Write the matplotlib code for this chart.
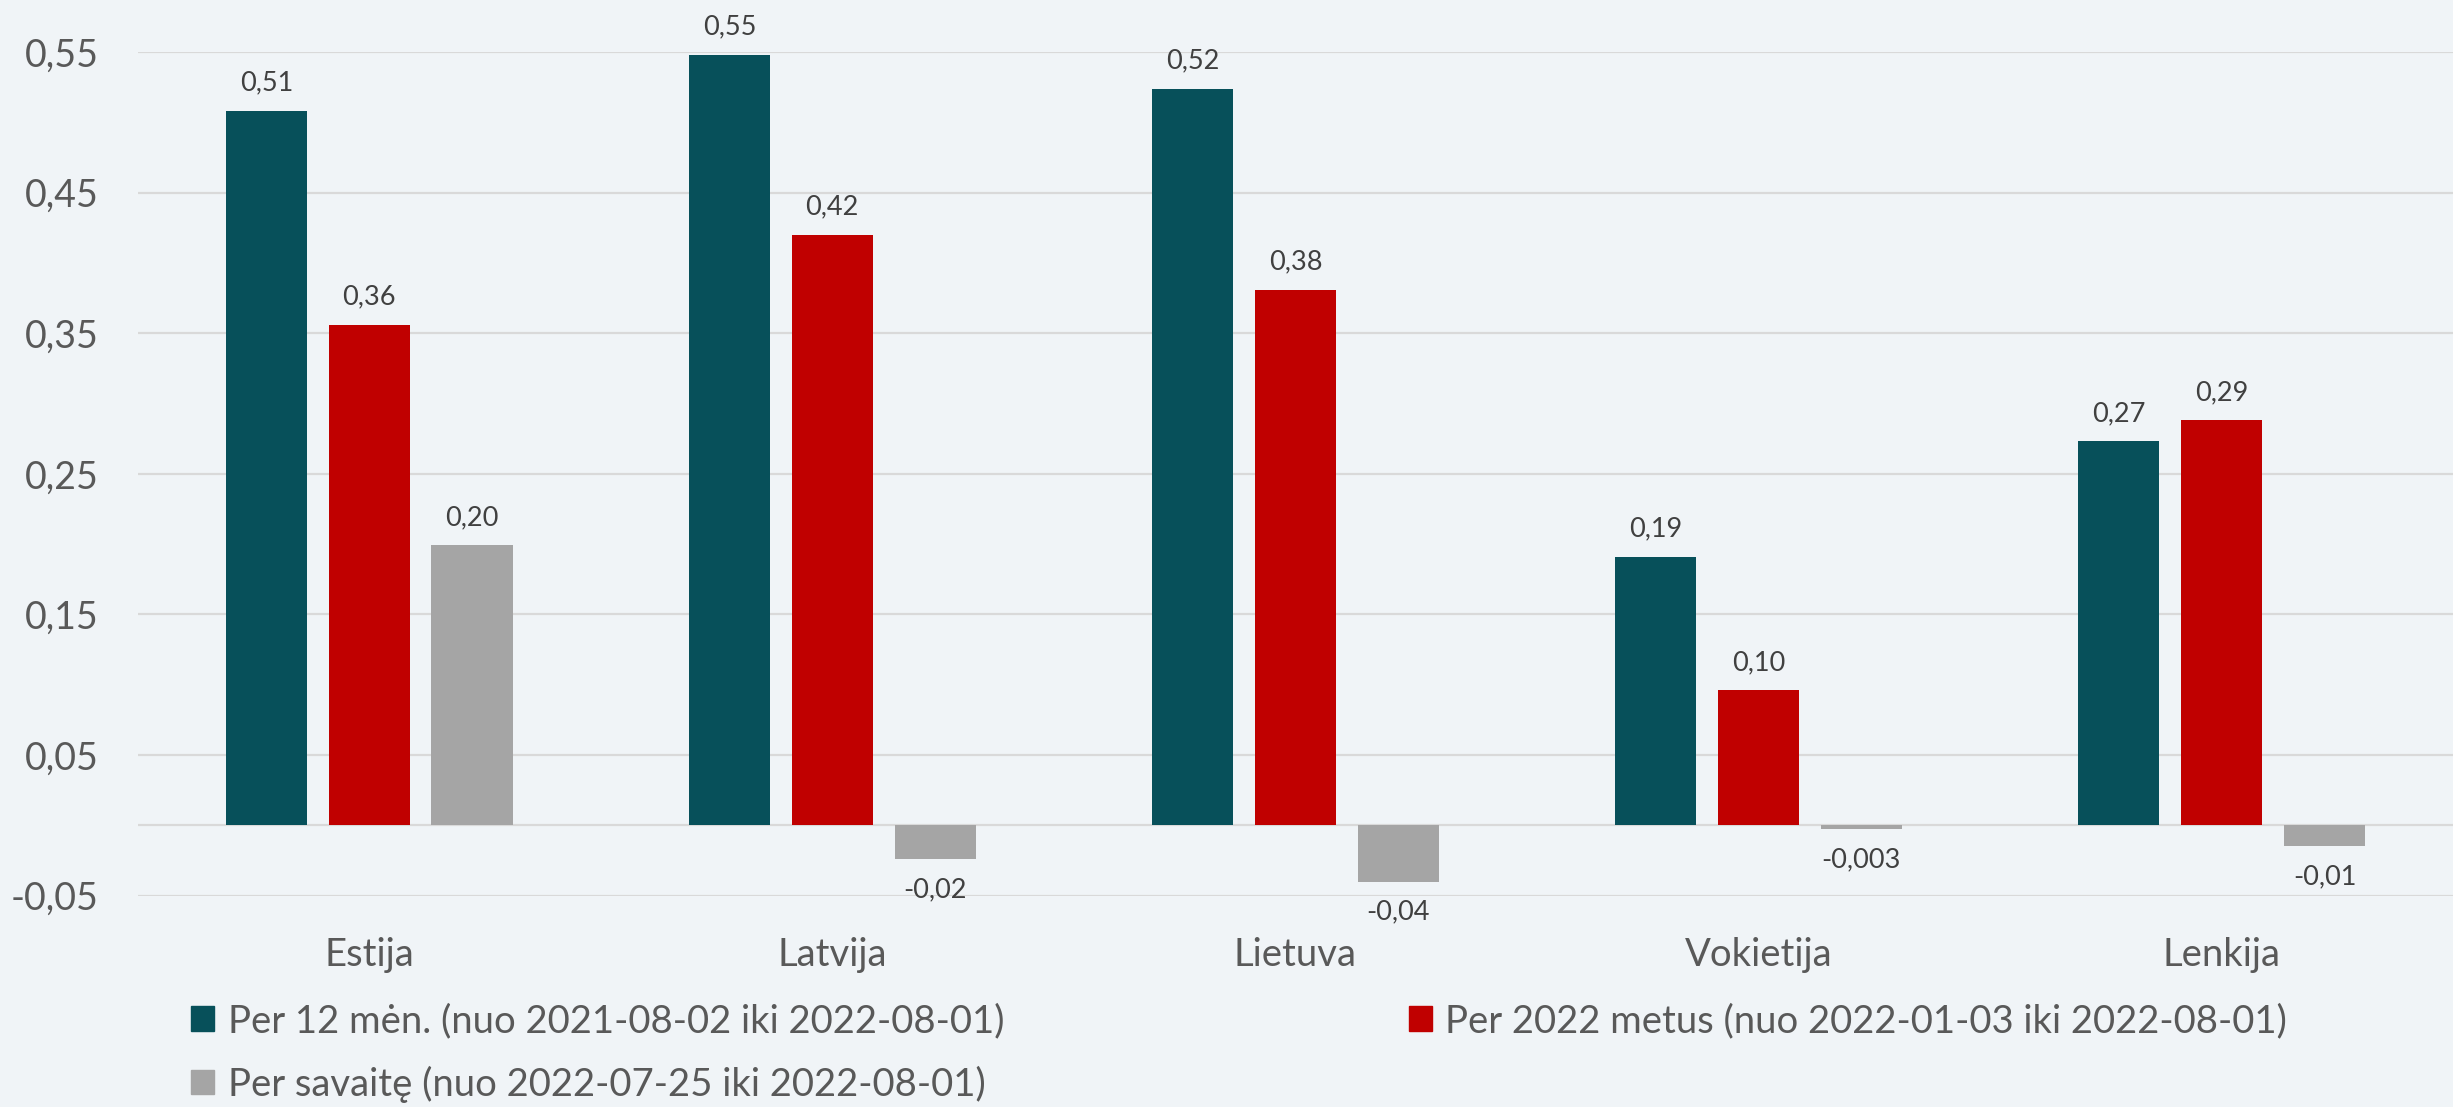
import numpy as np
import matplotlib
matplotlib.use('Agg')
import matplotlib.pyplot as plt
from matplotlib.patches import Patch

plt.rcParams['font.family'] = ['Lato', 'DejaVu Sans']

# data
countries = ['Estija', 'Latvija', 'Lietuva', 'Vokietija', 'Lenkija']
per_12m = [0.508, 0.548, 0.524, 0.191, 0.273]
per_2022 = [0.356, 0.420, 0.381, 0.096, 0.288]
per_week = [0.199, -0.024, -0.040, -0.003, -0.015]
series_names = ['Per 12 mėn. (nuo 2021-08-02 iki 2022-08-01)',
                'Per 2022 metus (nuo 2022-01-03 iki 2022-08-01)',
                'Per savaitę (nuo 2022-07-25 iki 2022-08-01)']
colors = ['#07505A', '#C00000', '#A5A5A5']
yticks = [-0.05, 0.05, 0.15, 0.25, 0.35, 0.45, 0.55]

bg = '#F0F4F7'
fig = plt.figure(figsize=(24.53, 11.07), dpi=100, facecolor=bg)
ax = fig.add_axes([0.0561, 0.191, 0.944, 0.762])
ax.set_facecolor(bg)

x = np.arange(len(countries))
w = 0.175
step = 0.222


def fmt(v):
    s = '%.3f' % v if abs(v) < 0.005 else '%.2f' % v
    return s.replace('.', ',')


for i, vals in enumerate([per_12m, per_2022, per_week]):
    xs = x + (i - 1) * step
    ax.bar(xs, vals, width=w, color=colors[i], zorder=3)
    for xi, v in zip(xs, vals):
        if v >= 0:
            ax.annotate(fmt(v), (xi, v), xytext=(0, 11), textcoords='offset points',
                        ha='center', va='bottom', fontsize=19.5, color='#404040')
        else:
            ax.annotate(fmt(v), (xi, v), xytext=(0, -13), textcoords='offset points',
                        ha='center', va='top', fontsize=19.5, color='#404040')

ax.set_xlim(-0.5, len(countries) - 0.5)
ax.set_ylim(-0.05, 0.55)
ax.set_yticks(yticks)
ax.set_yticklabels([('%.2f' % t).replace('.', ',') for t in yticks])
ax.set_xticks(x)
ax.set_xticklabels(countries)
ax.tick_params(axis='y', length=0, pad=28, labelsize=27, labelcolor='#595959')
ax.tick_params(axis='x', length=0, pad=30, labelsize=27.5, labelcolor='#595959')
ax.grid(axis='y', color='#D9D9D9', linewidth=1.6, zorder=0)
ax.axhline(0, color='#D9D9D9', linewidth=1.6, zorder=2)
for s in ax.spines.values():
    s.set_visible(False)

handles = [Patch(color=colors[0]), Patch(color=colors[2]), Patch(color=colors[1])]
labels = [series_names[0], series_names[2], series_names[1]]
fig.legend(handles, labels, loc='upper left', bbox_to_anchor=(0.078, 0.094),
           ncol=2, frameon=False, fontsize=27.5, labelcolor='#595959',
           handlelength=0.6, handleheight=0.6, handletextpad=0.35,
           columnspacing=10.6, labelspacing=0.7, borderaxespad=0, borderpad=0)

fig.savefig('out.png', dpi=100, facecolor=bg)
